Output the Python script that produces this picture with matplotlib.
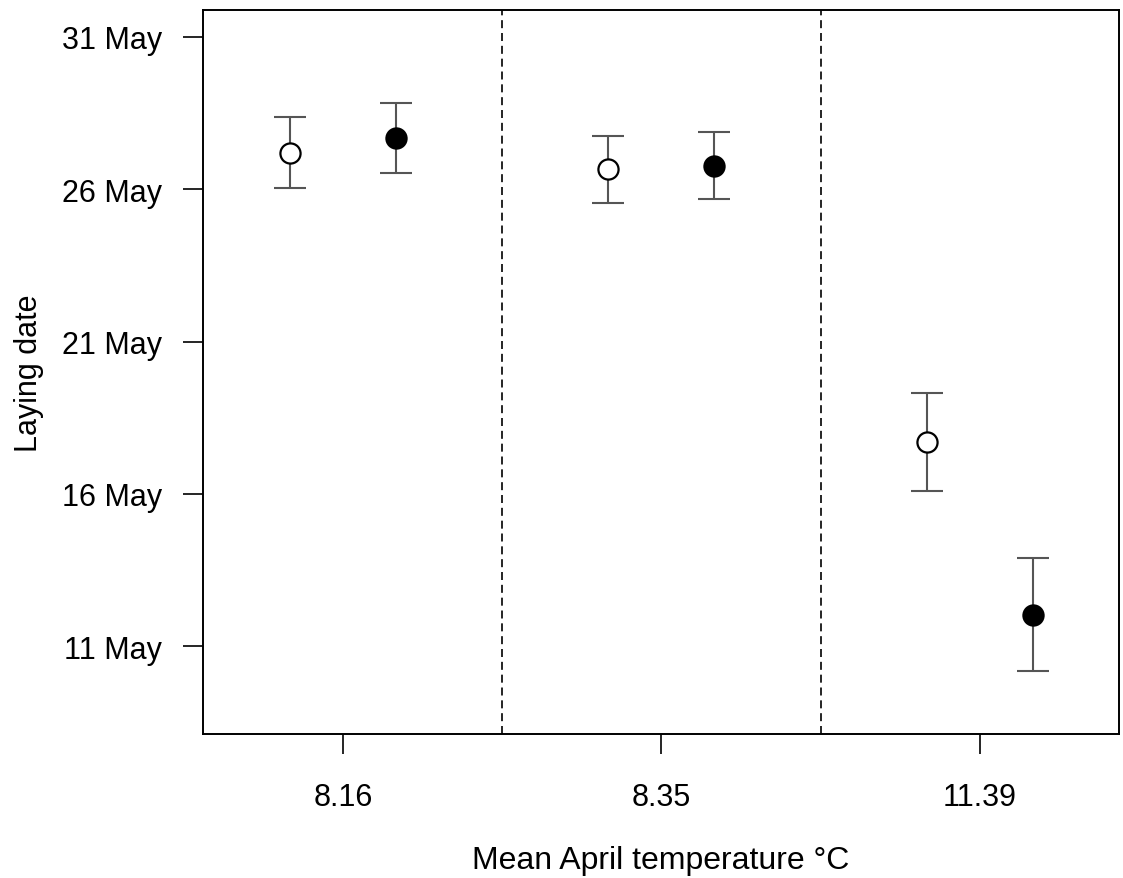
import numpy as np
import matplotlib
matplotlib.use("Agg")
import matplotlib.pyplot as plt

plt.rcParams['font.family'] = ['Liberation Sans', 'DejaVu Sans']
plt.rcParams['font.size'] = 22

# mean April temperature groups
temp_labels = ["8.16", "8.35", "11.39"]

# laying date as day of May (open = first series, filled = second series)
open_mean = [27.20, 26.66, 17.71]
open_low = [26.04, 25.55, 16.11]
open_high = [28.37, 27.75, 19.30]

filled_mean = [27.67, 26.76, 12.02]
filled_low = [26.54, 25.69, 10.19]
filled_high = [28.83, 27.86, 13.88]

date_ticks = [11, 16, 21, 26, 31]
date_labels = ["11 May", "16 May", "21 May", "26 May", "31 May"]

x = np.arange(1, len(temp_labels) + 1)
offset = 1 / 6

fig = plt.figure(figsize=(11.23, 8.79), dpi=100)
ax = fig.add_axes([0.1808, 0.1638, 0.8156, 0.8237])

bar_col = "#555555"
for xs, m, lo, hi, face in [(x - offset, open_mean, open_low, open_high, "white"),
                            (x + offset, filled_mean, filled_low, filled_high, "black")]:
    m = np.array(m)
    yerr = [m - np.array(lo), np.array(hi) - m]
    ax.errorbar(xs, m, yerr=yerr, fmt='none', ecolor=bar_col, elinewidth=1.5,
                capsize=11.5, capthick=1.5, zorder=2)
    ax.plot(xs, m, 'o', markersize=14.5, markerfacecolor=face, markeredgecolor='black',
            markeredgewidth=1.6, zorder=3)

# dashed separators between temperature groups
for xv in x[:-1] + 0.5:
    ax.axvline(xv, color='black', linewidth=1.2, linestyle=(0, (4.8, 2.9)), zorder=1)

ax.set_xlim(0.56, 3.4377)
ax.set_ylim(8.12, 31.88)
ax.set_xticks(x)
ax.set_xticklabels(temp_labels)
ax.set_yticks(date_ticks)
ax.set_yticklabels(date_labels)

ax.tick_params(axis='x', length=14.4, width=1.2, pad=20)
ax.tick_params(axis='y', length=14.4, width=1.2, pad=15)
for s in ax.spines.values():
    s.set_linewidth(1.4)

ax.set_xlabel("Mean April temperature °C", fontsize=23, labelpad=24)
ax.set_ylabel("Laying date", labelpad=13)

fig.savefig("out.png", dpi=100)
